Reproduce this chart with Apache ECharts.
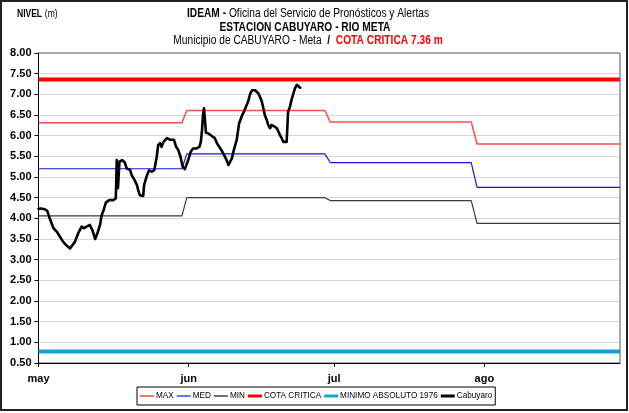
<!DOCTYPE html>
<html>
<head>
<meta charset="utf-8">
<script src="https://cdn.jsdelivr.net/npm/echarts@6/dist/echarts.min.js"></script>
<style>
  html, body { margin: 0; padding: 0; background: #fff; }
  #chart { width: 629px; height: 413px; }
</style>
</head>
<body>
<div id="chart"></div>
<script>
// Days counted from 1 May; month ticks and their labels
const monthStarts = [0, 31, 61, 92];
const monthLabels = ['may', 'jun', 'jul', 'ago'];
const lastDay = 120;

// Reference levels (MAX / MED / MIN) per month, with the day where each step changes
const refDias  = [0, 29.6, 30.6, 59.1, 60.2, 89.3, 90.5, 120];
const maxNivel = [6.31, 6.31, 6.61, 6.61, 6.33, 6.33, 5.80, 5.80];
const medNivel = [5.20, 5.20, 5.56, 5.56, 5.35, 5.35, 4.75, 4.75];
const minNivel = [4.06, 4.06, 4.50, 4.50, 4.43, 4.43, 3.88, 3.88];

// Constant thresholds
const cotaCritica = 7.36;
const minimoAbsoluto1976 = 0.78;

// Observed level at Cabuyaro station (day offset, level in m)
const cabDias = [
  0.0, 0.5, 1.3, 1.8, 2.2, 2.7, 3.1, 3.75, 4.4, 5.1, 5.8, 6.5, 6.8, 7.5, 8.2, 8.9, 9.4, 9.9,
  10.6, 11.1, 11.7, 12.1, 12.7, 13.0, 13.5, 13.9, 14.6, 15.4, 15.95, 16.15, 16.4, 16.7, 17.3,
  17.8, 18.2, 18.9, 19.2, 19.8, 20.3, 20.6, 20.9, 21.6, 21.8, 22.3, 22.8, 23.4, 23.9, 24.4,
  24.7, 25.1, 25.4, 25.8, 26.5, 27.2, 27.6, 27.96, 28.4, 28.85, 29.3, 29.75, 30.2, 30.5, 30.9,
  31.4, 31.9, 32.6, 33.2, 33.5, 33.75, 33.95, 34.15, 34.35, 34.55, 35.0, 35.4, 35.9, 36.4,
  36.8, 37.3, 37.8, 38.3, 38.8, 39.2, 39.5, 39.9, 40.3, 40.9, 41.1, 41.4, 41.8, 42.05, 42.4,
  42.8, 43.1, 43.4, 43.7, 44.1, 44.7, 45.0, 45.4, 45.7, 46.1, 46.4, 46.7, 47.1, 47.4, 47.8,
  48.1, 48.7, 49.2, 49.5, 49.8, 50.2, 50.5, 50.9, 51.2, 51.35, 51.5, 51.9, 52.2, 52.6, 52.9,
  53.3, 53.6, 54.0
];
const cabNivel = [
  4.23, 4.24, 4.22, 4.18, 4.04, 3.88, 3.76, 3.68, 3.56, 3.43, 3.34, 3.27, 3.29, 3.43, 3.64, 3.80, 3.76, 3.80,
  3.84, 3.72, 3.50, 3.62, 3.84, 4.06, 4.22, 4.38, 4.44, 4.44, 4.48, 5.41, 4.73, 5.37, 5.41,
  5.35, 5.21, 5.17, 5.05, 4.93, 4.81, 4.67, 4.56, 4.54, 4.81, 5.01, 5.16, 5.13, 5.17, 5.49,
  5.77, 5.82, 5.73, 5.85, 5.94, 5.90, 5.94, 5.90, 5.73, 5.65, 5.49, 5.25, 5.19, 5.21, 5.41,
  5.61, 5.69, 5.69, 5.73, 5.85, 6.14, 6.50, 6.66, 6.38, 6.07, 6.06, 6.10, 5.98, 5.94,
  5.82, 5.73, 5.64, 5.53, 5.41, 5.29, 5.33, 5.45, 5.65, 5.90, 6.06, 6.30, 6.26, 6.50, 6.58,
  6.70, 6.78, 6.88, 7.02, 7.10, 7.10, 7.06, 7.02, 6.94, 6.82, 6.66, 6.50, 6.38, 6.26, 6.18,
  6.26, 6.22, 6.18, 6.10, 6.02, 5.94, 5.85, 5.82, 5.85, 6.18, 6.58, 6.70, 6.86, 7.02, 7.14,
  7.23, 7.21, 7.16
];

const sans = "'Liberation Sans', Arial, sans-serif";
const condense = 0.85;   // horizontal squeeze for the heading text

const pairs = (xs, ys) => xs.map((x, i) => [x, ys[i]]);

// Legend swatches: a horizontal bar of the given thickness inside a 14x10 box
const bar = t => {
  const y0 = (10 - t) / 2;
  return 'path://M0,0h0.01v0.01h-0.01z M13.99,9.99h0.01v0.01h-0.01z M0,' + y0 + 'h14v' + t + 'h-14z';
};

const chart = echarts.init(document.getElementById('chart'), null, { renderer: 'canvas' });

chart.setOption({
  animation: false,
  backgroundColor: '#fff',
  grid: {
    left: 38.5, right: 9, top: 53, bottom: 50,
    show: true, borderColor: '#555', borderWidth: 1, backgroundColor: 'transparent'
  },
  graphic: [
    {
      type: 'rect', silent: true, z: -1,
      shape: { x: 1, y: 1, width: 626, height: 409 },
      style: { fill: 'none', stroke: '#222', lineWidth: 2 }
    },
    {
      type: 'text', x: 17, y: 14, scaleX: condense,
      style: {
        text: '{b|NIVEL} {n|(m)}', verticalAlign: 'middle',
        rich: {
          b: { fontFamily: sans, fontSize: 10, fontWeight: 'bold', fill: '#000' },
          n: { fontFamily: sans, fontSize: 10, fill: '#000' }
        }
      }
    },
    {
      type: 'text', x: 308, y: 14, scaleX: condense,
      style: {
        text: '{b|IDEAM - }{n|Oficina del Servicio de Pronósticos y Alertas}',
        align: 'center', verticalAlign: 'middle',
        rich: {
          b: { fontFamily: sans, fontSize: 12, fontWeight: 'bold', fill: '#000' },
          n: { fontFamily: sans, fontSize: 12, fill: '#000' }
        }
      }
    },
    {
      type: 'text', x: 305, y: 27.5, scaleX: condense,
      style: {
        text: 'ESTACION CABUYARO - RIO META',
        align: 'center', verticalAlign: 'middle',
        font: 'bold 12px ' + sans, fill: '#000'
      }
    },
    {
      type: 'text', x: 308, y: 41, scaleX: condense,
      style: {
        text: '{n|Municipio de CABUYARO - Meta }{b| / }{r| COTA CRITICA 7.36 m}',
        align: 'center', verticalAlign: 'middle',
        rich: {
          n: { fontFamily: sans, fontSize: 12, fill: '#000' },
          b: { fontFamily: sans, fontSize: 12, fontWeight: 'bold', fill: '#000' },
          r: { fontFamily: sans, fontSize: 12, fontWeight: 'bold', fill: '#ff0000' }
        }
      }
    }
  ],
  legend: {
    left: 137, top: 387,
    padding: [4, 3, 4, 3],
    itemGap: 3, itemWidth: 14, itemHeight: 10,
    borderColor: '#000', borderWidth: 1, backgroundColor: '#fff',
    textStyle: { fontFamily: sans, fontSize: 8.2, color: '#000', padding: [0, 0, 0, -3] },
    data: [
      { name: 'MAX', icon: bar(2), itemStyle: { color: '#ff7070' } },
      { name: 'MED', icon: bar(2), itemStyle: { color: '#7070ff' } },
      { name: 'MIN', icon: bar(2), itemStyle: { color: '#707070' } },
      { name: 'COTA CRITICA', icon: bar(3), itemStyle: { color: '#ff0000' } },
      { name: 'MINIMO ABSOLUTO 1976', icon: bar(3), itemStyle: { color: '#1a9fd8' } },
      { name: 'Cabuyaro', icon: bar(3), itemStyle: { color: '#000' } }
    ]
  },
  xAxis: {
    type: 'value', min: 0, max: lastDay,
    axisLine: { show: true, lineStyle: { color: '#000', width: 1 } },
    axisTick: { show: true, customValues: monthStarts, length: 4, lineStyle: { color: '#000' } },
    axisLabel: {
      customValues: monthStarts, margin: 10,
      formatter: v => monthLabels[monthStarts.indexOf(v)] || '',
      fontFamily: sans, fontSize: 11, fontWeight: 'bold', color: '#000'
    },
    splitLine: { show: false }
  },
  yAxis: {
    type: 'value', min: 0.5, max: 8, interval: 0.5,
    axisLine: { show: true, lineStyle: { color: '#000', width: 1 } },
    axisTick: { show: true, length: 4, lineStyle: { color: '#000' } },
    axisLabel: {
      formatter: v => v.toFixed(2), margin: 7,
      fontFamily: sans, fontSize: 11, fontWeight: 'bold', color: '#000'
    },
    splitLine: { show: true, lineStyle: { color: '#aaa', type: 'dotted', width: 1 } }
  },
  series: [
    {
      name: 'MAX', type: 'line', symbol: 'none', z: 3,
      data: pairs(refDias, maxNivel),
      lineStyle: { color: '#ff4d4d', width: 1.5 }, itemStyle: { color: '#ff7070' }
    },
    {
      name: 'MED', type: 'line', symbol: 'none', z: 3,
      data: pairs(refDias, medNivel),
      lineStyle: { color: '#1414e6', width: 1.2 }, itemStyle: { color: '#7070ff' }
    },
    {
      name: 'MIN', type: 'line', symbol: 'none', z: 3,
      data: pairs(refDias, minNivel),
      lineStyle: { color: '#3a3a3a', width: 1.2 }, itemStyle: { color: '#707070' }
    },
    {
      name: 'COTA CRITICA', type: 'line', symbol: 'none', z: 4,
      data: [[0, cotaCritica], [lastDay, cotaCritica]],
      lineStyle: { color: '#ff0000', width: 4 }, itemStyle: { color: '#ff0000' }
    },
    {
      name: 'MINIMO ABSOLUTO 1976', type: 'line', symbol: 'none', z: 4,
      data: [[0, minimoAbsoluto1976], [lastDay, minimoAbsoluto1976]],
      lineStyle: { color: '#1a9fd8', width: 4 }, itemStyle: { color: '#1a9fd8' }
    },
    {
      name: 'Cabuyaro', type: 'line', symbol: 'none', z: 5,
      data: pairs(cabDias, cabNivel),
      lineStyle: { color: '#000', width: 2.6, join: 'round', cap: 'round' }, itemStyle: { color: '#000' }
    }
  ]
});
</script>
</body>
</html>
